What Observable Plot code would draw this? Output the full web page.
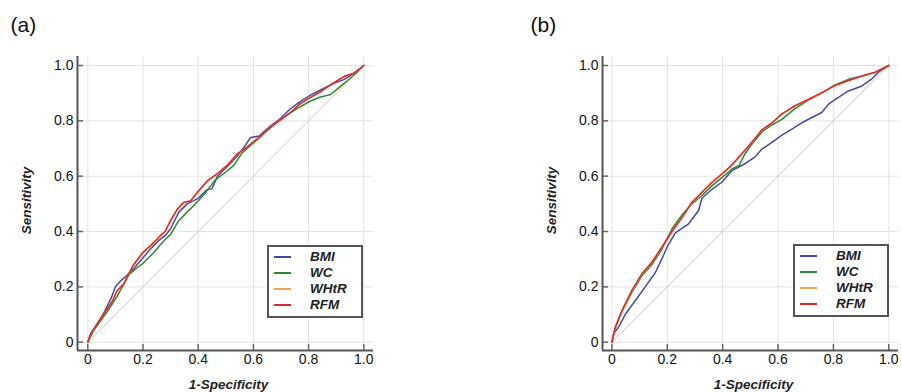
<!DOCTYPE html>
<html><head><meta charset="utf-8">
<script src="https://cdn.jsdelivr.net/npm/d3@7"></script>
<script src="https://cdn.jsdelivr.net/npm/@observablehq/plot@0.6"></script>
<style>
body{margin:0;background:#fff;font-family:"Liberation Sans",Arial,sans-serif;}
#wrap{position:relative;width:902px;height:392px;overflow:hidden;}
.panel{position:absolute;top:0;}
.legend{position:absolute;border:2px solid #555;background:#fff;box-sizing:border-box;width:96px;height:73px;}
.legend .ln{position:absolute;left:5px;width:17px;height:2px;}
.legend .tx{position:absolute;left:41px;font-weight:bold;font-style:italic;font-size:13.5px;line-height:16px;color:#222;}
</style></head>
<body><div id="wrap"></div>
<script>
const seriesNames = ["BMI", "WC", "WHtR", "RFM"];
const seriesColors = ["#464ba2", "#2b8a2f", "#f4a055", "#e4262b"];
const tickValues = [0, 0.2, 0.4, 0.6, 0.8, 1.0];
const tickLabels = ["0", "0.2", "0.4", "0.6", "0.8", "1.0"];
const panelLabels = ["(a)", "(b)"];
const xTitle = "1-Specificity";
const yTitle = "Sensitivity";
const diagonal = [[0, 0], [1, 1]];

// Panel (a): [1-specificity, sensitivity]
const aBMI = [[0,0],[0.01,0.03],[0.03,0.06],[0.06,0.11],[0.085,0.16],[0.1,0.2],[0.12,0.222],[0.14,0.24],[0.17,0.27],[0.2,0.305],[0.23,0.34],[0.26,0.37],[0.28,0.385],[0.3,0.41],[0.33,0.47],[0.36,0.5],[0.4,0.52],[0.43,0.55],[0.45,0.555],[0.47,0.6],[0.5,0.63],[0.54,0.67],[0.57,0.71],[0.59,0.74],[0.62,0.745],[0.66,0.78],[0.7,0.81],[0.73,0.84],[0.77,0.87],[0.81,0.895],[0.85,0.915],[0.89,0.935],[0.93,0.95],[0.96,0.97],[1,1]];
const aWC = [[0,0],[0.02,0.04],[0.034,0.06],[0.07,0.11],[0.106,0.165],[0.13,0.21],[0.15,0.245],[0.18,0.27],[0.2,0.285],[0.24,0.325],[0.27,0.36],[0.3,0.39],[0.33,0.44],[0.36,0.47],[0.4,0.51],[0.43,0.545],[0.46,0.585],[0.5,0.615],[0.53,0.64],[0.56,0.685],[0.6,0.72],[0.64,0.755],[0.68,0.79],[0.72,0.82],[0.76,0.845],[0.8,0.868],[0.84,0.885],[0.88,0.895],[0.91,0.92],[0.94,0.945],[0.97,0.97],[1,1]];
const aWHtR = [[0,0],[0.01,0.03],[0.034,0.066],[0.07,0.12],[0.09,0.15],[0.106,0.185],[0.13,0.21],[0.142,0.235],[0.166,0.28],[0.2,0.322],[0.239,0.36],[0.263,0.385],[0.28,0.4],[0.3,0.438],[0.324,0.48],[0.348,0.505],[0.372,0.51],[0.396,0.54],[0.432,0.582],[0.468,0.608],[0.505,0.639],[0.541,0.68],[0.577,0.705],[0.614,0.735],[0.65,0.768],[0.686,0.795],[0.734,0.83],[0.77,0.862],[0.807,0.885],[0.843,0.905],[0.879,0.93],[0.928,0.96],[0.964,0.972],[1,1]];
const aRFM = [[0,0],[0.01,0.03],[0.034,0.066],[0.07,0.12],[0.09,0.15],[0.106,0.187],[0.13,0.21],[0.142,0.235],[0.166,0.28],[0.2,0.325],[0.239,0.36],[0.263,0.385],[0.28,0.4],[0.3,0.44],[0.324,0.48],[0.348,0.506],[0.372,0.51],[0.396,0.54],[0.432,0.582],[0.468,0.608],[0.505,0.639],[0.541,0.68],[0.577,0.705],[0.614,0.735],[0.65,0.768],[0.686,0.795],[0.734,0.83],[0.77,0.862],[0.807,0.885],[0.843,0.905],[0.879,0.93],[0.928,0.96],[0.964,0.972],[1,1]];

// Panel (b)
const bBMI = [[0,0],[0.006,0.03],[0.024,0.054],[0.048,0.1],[0.084,0.15],[0.12,0.2],[0.156,0.25],[0.18,0.3],[0.2,0.345],[0.229,0.395],[0.277,0.428],[0.313,0.476],[0.325,0.52],[0.361,0.552],[0.397,0.578],[0.433,0.62],[0.481,0.645],[0.517,0.67],[0.542,0.698],[0.578,0.722],[0.614,0.748],[0.65,0.77],[0.686,0.793],[0.722,0.812],[0.758,0.83],[0.782,0.86],[0.818,0.885],[0.854,0.908],[0.903,0.926],[0.939,0.952],[0.963,0.976],[1,1]];
const bWC = [[0,0],[0.012,0.05],[0.036,0.11],[0.072,0.18],[0.108,0.24],[0.144,0.28],[0.18,0.335],[0.217,0.41],[0.253,0.46],[0.289,0.5],[0.325,0.53],[0.361,0.565],[0.397,0.595],[0.433,0.625],[0.46,0.64],[0.48,0.68],[0.505,0.715],[0.542,0.76],[0.578,0.785],[0.614,0.805],[0.662,0.845],[0.71,0.875],[0.758,0.9],[0.806,0.93],[0.854,0.95],[0.903,0.962],[0.951,0.975],[1,1]];
const bWHtR = [[0,0],[0.012,0.052],[0.036,0.112],[0.072,0.185],[0.108,0.245],[0.144,0.288],[0.18,0.342],[0.217,0.4],[0.253,0.45],[0.289,0.504],[0.325,0.54],[0.361,0.576],[0.397,0.607],[0.433,0.64],[0.469,0.68],[0.505,0.722],[0.542,0.767],[0.578,0.792],[0.614,0.824],[0.662,0.854],[0.71,0.877],[0.758,0.901],[0.806,0.927],[0.854,0.945],[0.903,0.962],[0.951,0.976],[1,1]];
const bRFM = [[0,0],[0.012,0.054],[0.036,0.114],[0.072,0.187],[0.108,0.247],[0.144,0.289],[0.18,0.343],[0.217,0.4],[0.253,0.45],[0.289,0.506],[0.325,0.542],[0.361,0.578],[0.397,0.608],[0.433,0.64],[0.469,0.681],[0.505,0.723],[0.542,0.768],[0.578,0.793],[0.614,0.825],[0.662,0.855],[0.71,0.878],[0.758,0.902],[0.806,0.928],[0.854,0.946],[0.903,0.962],[0.951,0.976],[1,1]];

const panels = [
  {label: panelLabels[0], left: 0, width: 451, marginLeft: 77, marginRight: 78, xDomain: [-0.0373, 1.0352], labelDx: -67, series: [aBMI, aWC, aWHtR, aRFM], legend: {left: 267, top: 245}},
  {label: panelLabels[1], left: 450, width: 452, marginLeft: 152, marginRight: 4, xDomain: [-0.034, 1.035], labelDx: -72, series: [bBMI, bWC, bWHtR, bRFM], legend: {left: 793, top: 244}}
];
const yDomain = [-0.03, 1.0325];
const fmt = d => tickLabels[tickValues.indexOf(d)];

const wrap = document.getElementById("wrap");
for (const p of panels) {
  const frameW = p.width - p.marginLeft - p.marginRight;
  const frameH = 392 - 56 - 42;
  const tickLenY = 6 * (yDomain[1] - yDomain[0]) / frameH;
  const tickLenX = 6 * (p.xDomain[1] - p.xDomain[0]) / frameW;
  const chart = Plot.plot({
    width: p.width, height: 392,
    marginLeft: p.marginLeft, marginRight: p.marginRight, marginTop: 56, marginBottom: 42,
    x: {domain: p.xDomain},
    y: {domain: yDomain},
    style: {fontFamily: "'Liberation Sans', Arial, sans-serif", fontSize: "14px", color: "#111", background: "transparent"},
    marks: [
      Plot.gridX(tickValues, {stroke: "#e3e3e3", strokeOpacity: 1, strokeWidth: 1}),
      Plot.gridY(tickValues, {stroke: "#e3e3e3", strokeOpacity: 1, strokeWidth: 1}),
      Plot.line(diagonal, {x: d => d[0], y: d => d[1], stroke: "#e2b9b9", strokeWidth: 1}),
      ...p.series.map((pts, i) => Plot.line(pts, {x: d => d[0], y: d => d[1], stroke: seriesColors[i], strokeWidth: 1.5})),
      Plot.ruleX(tickValues, {x: d => d, y1: yDomain[0], y2: yDomain[0] + tickLenY, stroke: "#666", strokeWidth: 1.5}),
      Plot.ruleY(tickValues, {y: d => d, x1: p.xDomain[0], x2: p.xDomain[0] + tickLenX, stroke: "#666", strokeWidth: 1.5}),
      Plot.ruleX([p.xDomain[0]], {stroke: "#555", strokeWidth: 2}),
      Plot.ruleY([yDomain[0]], {stroke: "#555", strokeWidth: 2}),
      Plot.axisX(tickValues, {tickSize: 0, tickPadding: 4, tickFormat: fmt, label: null, fontSize: 14, fill: "#111"}),
      Plot.axisY(tickValues, {tickSize: 0, tickPadding: 4, tickFormat: fmt, label: null, fontSize: 14, fill: "#111"}),
      Plot.text([yTitle], {text: d => d, frameAnchor: "left", textAnchor: "middle", lineAnchor: "middle", rotate: -90, dx: -51, dy: -3, fontWeight: "bold", fontStyle: "italic", fontSize: 13.5, fill: "#222"}),
      Plot.text([xTitle], {text: d => d, frameAnchor: "bottom", textAnchor: "middle", lineAnchor: "middle", dx: 3, dy: 34, fontWeight: "bold", fontStyle: "italic", fontSize: 13.5, fill: "#222"}),
      Plot.text([p.label], {text: d => d, frameAnchor: "top-left", textAnchor: "start", lineAnchor: "middle", dx: p.labelDx, dy: -31, fontSize: 21, fill: "#111"})
    ]
  });
  const div = document.createElement("div");
  div.className = "panel";
  div.style.left = p.left + "px";
  div.appendChild(chart);
  wrap.appendChild(div);

  const lg = document.createElement("div");
  lg.className = "legend";
  lg.style.left = p.legend.left + "px";
  lg.style.top = p.legend.top + "px";
  seriesNames.forEach((name, i) => {
    const c = 10 + 16 * i;
    const ln = document.createElement("div");
    ln.className = "ln";
    ln.style.top = (c - 1) + "px";
    ln.style.background = seriesColors[i];
    const tx = document.createElement("div");
    tx.className = "tx";
    tx.style.top = (c - 8) + "px";
    tx.textContent = name;
    lg.appendChild(ln);
    lg.appendChild(tx);
  });
  wrap.appendChild(lg);
}
</script>
</body></html>
